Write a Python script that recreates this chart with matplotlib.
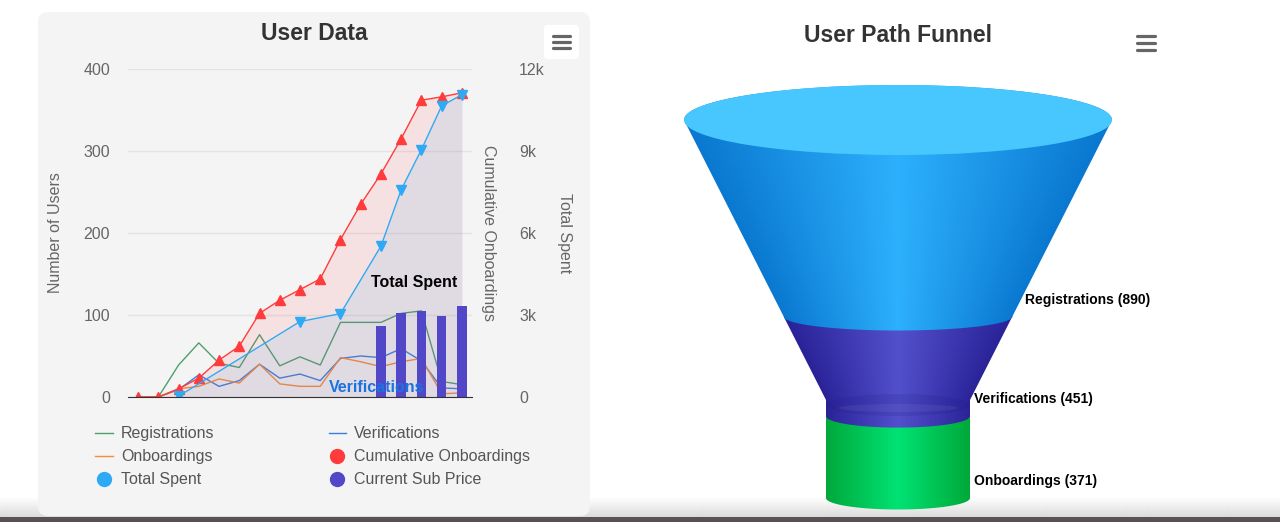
import numpy as np
import matplotlib.pyplot as plt
import matplotlib.colors as mcolors
from matplotlib.lines import Line2D
from matplotlib.patches import Polygon, Ellipse, FancyBboxPatch, Rectangle
from matplotlib.ticker import FuncFormatter

plt.rcParams['font.family'] = ['Liberation Sans', 'DejaVu Sans']

W, H = 1280, 522

# ---- User Data (17 periods) ----
periods = np.arange(17)
registrations = [0, 0, 39, 66, 41, 36, 76, 38, 49, 39, 91, 91, 91, 102, 105, 19, 15]
verifications = [0, 0, 9, 27, 13, 20, 40, 23, 28, 20, 47, 50, 48, 59, 44, 11, 10]
onboardings = [0, 0, 10, 13, 22, 17, 40, 16, 13, 13, 48, 43, 37, 43, 47, 4, 5]
cumulative_onboardings = [0, 0, 10, 23, 45, 62, 102, 118, 131, 144, 192, 235, 272, 315, 362, 366, 371]
total_spent_periods = [2, 8, 10, 12, 13, 14, 15, 16]
total_spent = [30, 2760, 3050, 5520, 7580, 9050, 10650, 11060]
sub_price_periods = [12, 13, 14, 15, 16]
sub_price = [86, 103, 105, 99, 111]

# ---- User Path Funnel ----
funnel_stages = ['Registrations', 'Verifications', 'Onboardings']
funnel_values = [890, 451, 371]

# colours
c_reg, c_ver, c_onb = '#4f9f6c', '#3b7ddd', '#f58c3c'
c_cum, c_spent, c_sub = '#ff3b3b', '#2eaaf5', '#5247c7'
grey = '#666666'

fig = plt.figure(figsize=(W / 100, H / 100), dpi=100)
fig.patch.set_facecolor('white')

# background layer in pixel coordinates
bg = fig.add_axes([0, 0, 1, 1], zorder=-1)
bg.axis('off')

# soft shade at the bottom of the page + dark strip
shade = np.zeros((40, 1, 4))
shade[..., :3] = mcolors.to_rgb('#dcdcdc')
shade[..., 3] = np.linspace(0, 1, 40)[:, None]
bg.imshow(shade, extent=(0, W, 517, 497), aspect='auto', zorder=0)
bg.add_patch(Rectangle((0, 517), W, 6, fc='#575353', ec='none', zorder=5))

# left panel
bg.add_patch(FancyBboxPatch((38, 12), 552, 504, boxstyle='round,pad=0,rounding_size=10',
                            fc='#f4f4f4', ec='none', zorder=1))
bg.add_patch(FancyBboxPatch((544, 25), 35, 34, boxstyle='round,pad=0,rounding_size=4',
                            fc='white', ec='none', zorder=2))
for y in (36, 42, 48):
    bg.plot([553, 570], [y, y], color=grey, lw=2.3, solid_capstyle='round', zorder=3)
for y in (36, 43, 50):
    bg.plot([1137, 1155], [y, y], color=grey, lw=2.3, solid_capstyle='round', zorder=3)

bg.text(314, 34, 'User Data', ha='center', va='center', fontsize=16.5,
        fontweight='bold', color='#333333', zorder=3)
bg.text(898, 35, 'User Path Funnel', ha='center', va='center', fontsize=16.5,
        fontweight='bold', color='#333333', zorder=3)

# ---- funnel (3D look) ----
cx = 898
f_top, f_bottom = 120, 498
f_width, f_neck_width = 428, 144
f_neck_y = 400


def half_width(y):
    if y >= f_neck_y:
        return f_neck_width / 2
    return f_width / 2 - (f_width - f_neck_width) / 2 * (y - f_top) / (f_neck_y - f_top)


def ry_of(rx):
    return np.interp(rx, [72, 112, 214], [11.5, 13.5, 35])


def side_outline(y0, y1, n=80):
    r0, r1 = half_width(y0), half_width(y1)
    e0, e1 = ry_of(r0), ry_of(r1)
    th = np.linspace(np.pi, 0, n)
    top = np.column_stack([cx + r0 * np.cos(th), y0 - e0 * np.sin(th)])
    ks = [y for y in (f_neck_y,) if y0 < y < y1]
    right = np.array([(cx + half_width(y), y) for y in ks]).reshape(-1, 2)
    th2 = np.linspace(0, np.pi, n)
    bottom = np.column_stack([cx + r1 * np.cos(th2), y1 + e1 * np.sin(th2)])
    left = np.array([(cx - half_width(y), y) for y in ks[::-1]]).reshape(-1, 2)
    return np.vstack([top, right, bottom, left]), r0, e0, e1


shades = [('#0a78d0', '#2db0fd'), ('#2a2398', '#5350cc'), ('#00a83a', '#00e374')]
bounds = f_top + (f_bottom - f_top) * np.concatenate([[0], np.cumsum(funnel_values)]) / sum(funnel_values)

for i in range(len(funnel_values) - 1, -1, -1):
    y0, y1 = bounds[i], bounds[i + 1]
    pts, r0, e0, e1 = side_outline(y0, y1)
    ytop, ybot = y0 - e0 - 2, y1 + e1 + 2
    ys = np.linspace(ytop, ybot, 120)
    xs = np.linspace(cx - r0, cx + r0, 300)
    hw = np.array([half_width(max(y, f_top)) for y in ys])
    t = np.clip(np.abs(xs[None, :] - cx) / hw[:, None], 0, 1)[..., None]
    edge, mid = np.array(mcolors.to_rgb(shades[i][0])), np.array(mcolors.to_rgb(shades[i][1]))
    img = mid * (1 - t) + edge * t
    im = bg.imshow(img, extent=(cx - r0, cx + r0, ybot, ytop), aspect='auto',
                   interpolation='bilinear', zorder=4)
    im.set_clip_path(Polygon(pts, closed=True, transform=bg.transData))
    if y0 < f_neck_y < y1:
        bg.add_patch(Ellipse((cx, f_neck_y + 5), f_neck_width, 22, fc='#1c1680',
                             alpha=0.15, ec='none', zorder=4.5))
        bg.add_patch(Ellipse((cx, f_neck_y + 8), f_neck_width - 24, 8, fc='white',
                             alpha=0.06, ec='none', zorder=4.6))

bg.add_patch(Ellipse((cx, f_top), f_width, 2 * ry_of(f_width / 2), fc='#47c7fe',
                     ec='none', zorder=4.8))

for i, (name, val) in enumerate(zip(funnel_stages, funnel_values)):
    ly = bounds[i + 1] - 17
    bg.text(cx + half_width(ly) + 4, ly, f'{name} ({val})', ha='left', va='center',
            fontsize=10, fontweight='bold', color='black', zorder=6)

bg.set_xlim(0, W)
bg.set_ylim(H, 0)

# ---- User Data chart ----
ax = fig.add_axes([128 / W, 1 - 397 / H, 344 / W, 328 / H])
ax.set_facecolor('none')
ax.set_xlim(-0.5, 16.5)
ax.set_ylim(0, 400)
ax.set_yticks([0, 100, 200, 300, 400])
ax.set_xticks([])
ax.grid(axis='y', color='#e4e4e4', lw=1)
ax.set_axisbelow(True)
for s in ax.spines.values():
    s.set_visible(False)
ax.tick_params(axis='y', length=0, pad=13, labelsize=11.5, labelcolor=grey)
ax.set_ylabel('Number of Users', fontsize=11.5, color=grey)
ax.yaxis.set_label_coords(-0.19, 0.5)

ax.plot(periods, registrations, color=c_reg, lw=1)
ax.plot(periods, verifications, color=c_ver, lw=1)
ax.plot(periods, onboardings, color=c_onb, lw=1)

ax2 = ax.twinx()
ax2.set_ylim(0, 400)
ax2.set_yticks([])
for s in ax2.spines.values():
    s.set_visible(False)
ax2.fill_between(periods, cumulative_onboardings, color=c_cum, alpha=0.1, lw=0)
ax2.plot(periods, cumulative_onboardings, color=c_cum, lw=1, marker='^', ms=7.5)
ax2.set_ylabel('Cumulative Onboardings', rotation=270, fontsize=11.5, color=grey, va='center')
ax2.yaxis.set_label_coords(1.047, 0.5)

ax3 = ax.twinx()
ax3.set_ylim(0, 12000)
ax3.set_yticks([0, 3000, 6000, 9000, 12000])
ax3.yaxis.set_major_formatter(FuncFormatter(lambda v, p: '0' if v == 0 else f'{int(v / 1000)}k'))
for s in ax3.spines.values():
    s.set_visible(False)
ax3.tick_params(axis='y', length=0, pad=34, labelsize=11.5, labelcolor=grey)
ax3.fill_between(total_spent_periods, total_spent, color=c_spent, alpha=0.1, lw=0)
ax3.plot(total_spent_periods, total_spent, color=c_spent, lw=1, marker='v', ms=7.5)
ax3.set_ylabel('Total Spent', rotation=270, fontsize=11.5, color=grey, va='center')
ax3.yaxis.set_label_coords(1.27, 0.5)

ax4 = ax.twinx()
ax4.set_ylim(0, 400)
ax4.set_yticks([])
for k, s in ax4.spines.items():
    s.set_visible(k == 'bottom')
ax4.spines['bottom'].set_color('#333333')
ax4.bar(sub_price_periods, sub_price, width=0.47, color=c_sub, lw=0)
ax4.text(13.63, 140, 'Total Spent', ha='center', va='center', fontsize=11.5,
         fontweight='bold', color='black')
ax4.text(11.8, 11, 'Verifications', ha='center', va='center', fontsize=11.5,
         fontweight='bold', color='#1a73e0')

handles = [
    Line2D([0], [0], color=c_reg, lw=1),
    Line2D([0], [0], color=c_onb, lw=1),
    Line2D([0], [0], marker='o', ls='none', ms=10, color=c_spent),
    Line2D([0], [0], color=c_ver, lw=1),
    Line2D([0], [0], marker='o', ls='none', ms=10, color=c_cum),
    Line2D([0], [0], marker='o', ls='none', ms=10, color=c_sub),
]
labels = ['Registrations', 'Onboardings', 'Total Spent',
          'Verifications', 'Cumulative Onboardings', 'Current Sub Price']
fig.legend(handles, labels, loc='upper left', bbox_to_anchor=(81 / W, 1 - 412 / H),
           ncol=2, frameon=False, fontsize=11.5, handlelength=1.1, handletextpad=0.5,
           columnspacing=7.15, labelspacing=0.5, labelcolor='#555555')

fig.savefig('out.png', dpi=100)
